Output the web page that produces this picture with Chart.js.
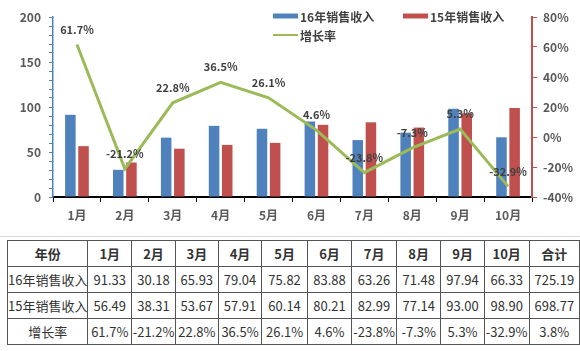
<!DOCTYPE html>
<html><head><meta charset="utf-8">
<script src="https://cdn.jsdelivr.net/npm/chart.js@4.4.0/dist/chart.umd.min.js"></script>
<style>
html,body{margin:0;padding:0;background:#fff;width:580px;height:351px;overflow:hidden;}
#wrap{position:absolute;left:0;top:0;width:580px;height:236px;}
#sep{position:absolute;left:0;top:236px;width:580px;height:1px;background:#d8d8d8;}
table{position:absolute;left:7px;top:240px;border-collapse:collapse;font-family:"Noto Sans CJK SC","Open Sans",sans-serif;font-size:13px;color:#333;table-layout:fixed;}
td{border:1px solid #555;text-align:center;padding:0;height:25px;line-height:25px;white-space:nowrap;}
tr.h td{font-weight:bold;}
</style></head>
<body>
<div id="wrap"><canvas id="c" width="580" height="236"></canvas></div>
<div id="sep"></div>
<table id="t"></table>
<script>
const categories = ['1月','2月','3月','4月','5月','6月','7月','8月','9月','10月'];
const sales16 = [91.33,30.18,65.93,79.04,75.82,83.88,63.26,71.48,97.94,66.33];
const sales15 = [56.49,38.31,53.67,57.91,60.14,80.21,82.99,77.14,93.00,98.90];
const growth = [61.7,-21.2,22.8,36.5,26.1,4.6,-23.8,-7.3,5.3,-32.9];
const growthLabels = ['61.7%','-21.2%','22.8%','36.5%','26.1%','4.6%','-23.8%','-7.3%','5.3%','-32.9%'];
const seriesNames = ['16年销售收入','15年销售收入','增长率'];
const tableHeader = ['年份','1月','2月','3月','4月','5月','6月','7月','8月','9月','10月','合计'];
const table16 = ['91.33','30.18','65.93','79.04','75.82','83.88','63.26','71.48','97.94','66.33','725.19'];
const table15 = ['56.49','38.31','53.67','57.91','60.14','80.21','82.99','77.14','93.00','98.90','698.77'];
const tableGrowth = ['61.7%','-21.2%','22.8%','36.5%','26.1%','4.6%','-23.8%','-7.3%','5.3%','-32.9%','3.8%'];

const colWidths = [75,44,44,43,44,46,45,45,45,44,45,51];
const FONT = '"Noto Sans CJK SC","Open Sans",sans-serif';
const BLUE='#4F81BD', RED='#C0504D', GREEN='#9BBB59';

// table
(function(){
  const t=document.getElementById('t');
  const cg=document.createElement('colgroup');
  colWidths.forEach(w=>{const c=document.createElement('col');c.style.width=w+'px';cg.appendChild(c);});
  t.appendChild(cg);
  const rows=[[tableHeader,'h'],[[seriesNames[0]].concat(table16),''],[[seriesNames[1]].concat(table15),''],[[seriesNames[2]].concat(tableGrowth),'']];
  rows.forEach(([cells,cls])=>{
    const tr=document.createElement('tr'); if(cls) tr.className=cls;
    cells.forEach(v=>{const td=document.createElement('td');td.textContent=v;tr.appendChild(td);});
    t.appendChild(tr);
  });
})();

const labelPlugin={
  id:'lbl',
  afterDatasetsDraw(chart){
    const ctx=chart.ctx; const meta=chart.getDatasetMeta(2);
    ctx.save();
    ctx.font='bold 11px '+FONT; ctx.fillStyle='#404040'; ctx.textAlign='center'; ctx.textBaseline='middle';
    meta.data.forEach((p,i)=>{ ctx.fillText(growthLabels[i], p.x, p.y-15); });
    ctx.restore();
  }
};
const legendPlugin={
  id:'leg',
  afterDraw(chart){
    const ctx=chart.ctx; ctx.save();
    ctx.font='bold 12px '+FONT; ctx.fillStyle='#404040'; ctx.textBaseline='middle'; ctx.textAlign='left';
    const items=[{x:273,y:16,c:BLUE,t:seriesNames[0],h:5},{x:403,y:16,c:RED,t:seriesNames[1],h:5},{x:273,y:35,c:GREEN,t:seriesNames[2],h:2}];
    items.forEach(it=>{
      ctx.fillStyle=it.c; ctx.fillRect(it.x,it.y-it.h/2,25,it.h);
      ctx.fillStyle='#404040'; ctx.fillText(it.t,it.x+27,it.y+1);
    });
    ctx.restore();
  }
};

new Chart(document.getElementById('c'),{
  data:{
    labels:categories,
    datasets:[
      {type:'bar',label:seriesNames[0],data:sales16,backgroundColor:BLUE,yAxisID:'y',order:2,categoryPercentage:0.55,barPercentage:0.8},
      {type:'bar',label:seriesNames[1],data:sales15,backgroundColor:RED,yAxisID:'y',order:2,categoryPercentage:0.55,barPercentage:0.8},
      {type:'line',label:seriesNames[2],data:growth,borderColor:GREEN,borderWidth:3,pointRadius:0,tension:0,yAxisID:'y1',order:1}
    ]
  },
  options:{
    responsive:false,animation:false,
    layout:{padding:{top:17,left:0,right:0,bottom:0}},
    plugins:{legend:{display:false},tooltip:{enabled:false}},
    scales:{
      x:{
        offset:true,
        grid:{display:true,drawOnChartArea:false,tickLength:5,tickColor:'#000',offset:true},
        border:{display:true,color:'#000',width:2},
        ticks:{font:{family:FONT,size:12,weight:'bold'},color:'#595959',padding:6,maxRotation:0},
        afterFit(s){s.height=39;}
      },
      y:{
        position:'left',min:0,max:200,
        grid:{drawOnChartArea:false,tickLength:4,tickColor:BLUE},
        border:{display:true,color:BLUE,width:1.5},
        ticks:{stepSize:10,autoSkip:false,font:{family:FONT,size:12,weight:'bold'},color:'#595959',padding:8,
          callback:v=>(v%50===0?String(v):'')},
        afterFit(s){s.width=53;}
      },
      y1:{
        position:'right',min:-40,max:80,
        grid:{drawOnChartArea:false,tickLength:5,tickColor:RED},
        border:{display:true,color:RED,width:2},
        ticks:{stepSize:20,font:{family:FONT,size:12,weight:'bold'},color:'#595959',padding:6,callback:v=>v+'%'},
        afterFit(s){s.width=48;}
      }
    }
  },
  plugins:[labelPlugin,legendPlugin]
});
</script>
</body></html>
